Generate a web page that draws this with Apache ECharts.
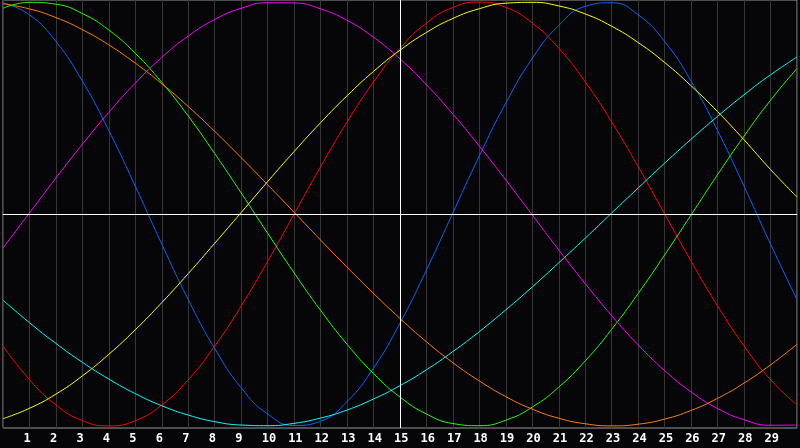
<!DOCTYPE html>
<html>
<head>
<meta charset="UTF-8">
<title>Biorhythm</title>
<script src="https://cdn.jsdelivr.net/npm/echarts@6/dist/echarts.min.js"></script>
<style>
  html, body { margin: 0; padding: 0; background: #060609; }
  #main { width: 800px; height: 448px; }
</style>
</head>
<body>
<div id="main"></div>
<script>
var days = [];
for (var d = 0; d <= 30; d++) days.push(String(d));

// values, one per day (0..30)
var physical = [0.997, 0.940, 0.814, 0.627, 0.393, 0.131, -0.142, -0.404, -0.635, -0.820, -0.944, -0.998, -0.978, -0.885, -0.727, -0.515, -0.264, 0.006, 0.275, 0.524, 0.735, 0.890, 0.980, 0.997, 0.940, 0.814, 0.627, 0.393, 0.131, -0.142, -0.404];
var emotional = [-0.623, -0.782, -0.901, -0.975, -1.000, -0.975, -0.901, -0.782, -0.623, -0.434, -0.223, 0, 0.223, 0.434, 0.623, 0.782, 0.901, 0.975, 1.000, 0.975, 0.901, 0.782, 0.623, 0.434, 0.223, 0, -0.223, -0.434, -0.623, -0.782, -0.901];
var intellectual = [0.971, 0.999, 0.990, 0.946, 0.868, 0.758, 0.621, 0.462, 0.285, 0.099, -0.091, -0.278, -0.455, -0.615, -0.753, -0.864, -0.944, -0.989, -0.999, -0.973, -0.911, -0.817, -0.693, -0.544, -0.375, -0.193, -0.004, 0.186, 0.368, 0.537, 0.687];
var intuitive = [-0.160, 0.005, 0.170, 0.329, 0.480, 0.618, 0.739, 0.840, 0.918, 0.971, 0.997, 0.996, 0.968, 0.914, 0.834, 0.732, 0.610, 0.471, 0.320, 0.160, -0.005, -0.170, -0.329, -0.480, -0.618, -0.739, -0.840, -0.918, -0.971, -0.997, -0.996];
var aesthetic = [-0.966, -0.917, -0.850, -0.764, -0.662, -0.546, -0.418, -0.281, -0.138, 0.007, 0.153, 0.295, 0.431, 0.558, 0.673, 0.773, 0.857, 0.923, 0.969, 0.995, 0.999, 0.982, 0.944, 0.886, 0.809, 0.715, 0.605, 0.483, 0.350, 0.210, 0.080];
var awareness = [0.992, 0.968, 0.927, 0.870, 0.798, 0.712, 0.615, 0.507, 0.390, 0.266, 0.138, 0.008, -0.123, -0.251, -0.375, -0.493, -0.603, -0.702, -0.788, -0.862, -0.921, -0.964, -0.990, -1.000, -0.992, -0.968, -0.927, -0.870, -0.798, -0.712, -0.615];
var spiritual = [-0.407, -0.513, -0.611, -0.700, -0.779, -0.848, -0.905, -0.949, -0.980, -0.996, -0.999, -0.988, -0.963, -0.925, -0.873, -0.810, -0.735, -0.649, -0.555, -0.452, -0.344, -0.230, -0.114, 0.005, 0.123, 0.240, 0.353, 0.461, 0.563, 0.657, 0.741];

var curves = [
  { name: 'physical', data: physical, color: '#0a64ff' },
  { name: 'emotional', data: emotional, color: '#ff0000' },
  { name: 'intellectual', data: intellectual, color: '#22ff00' },
  { name: 'intuitive', data: intuitive, color: '#ff00ff' },
  { name: 'aesthetic', data: aesthetic, color: '#ffff00' },
  { name: 'awareness', data: awareness, color: '#ff8000' },
  { name: 'spiritual', data: spiritual, color: '#00ffff' }
];

var series = curves.map(function (c) {
  return {
    name: c.name,
    type: 'line',
    data: c.data,
    smooth: true,
    showSymbol: false,
    lineStyle: { width: 1, color: c.color },
    itemStyle: { color: c.color }
  };
});
// white cross: today's line and the zero line
series.unshift({
  type: 'line',
  data: [],
  z: 1,
  markLine: {
    silent: true,
    symbol: 'none',
    label: { show: false },
    lineStyle: { color: '#ffffff', width: 1, type: 'solid' },
    data: [{ yAxis: 0 }, { xAxis: '15' }]
  }
});

var myChart = echarts.init(document.getElementById('main'));
myChart.setOption({
  backgroundColor: '#060609',
  animation: false,
  grid: { left: 0, right: 0, top: 0, bottom: 20, show: true, borderColor: '#999', borderWidth: 1 },
  xAxis: {
    type: 'category',
    data: days,
    boundaryGap: false,
    axisLine: { show: true, lineStyle: { color: '#999' } },
    axisTick: { show: false },
    splitLine: { show: true, interval: 0, lineStyle: { color: '#363636', width: 1 } },
    axisLabel: {
      interval: 0,
      margin: 5,
      formatter: function (v) { return (v === '0' || v === '30') ? '' : '{d|' + v + '}'; },
      rich: {
        d: {
          width: 12,
          align: 'left',
          color: '#fff',
          fontWeight: 'bold',
          fontSize: 12,
          fontFamily: 'DejaVu Sans Mono'
        }
      }
    }
  },
  yAxis: {
    type: 'value',
    min: -1.01,
    max: 1.01,
    axisLine: { show: false },
    axisTick: { show: false },
    axisLabel: { show: false },
    splitLine: { show: false }
  },
  series: series
});
</script>
</body>
</html>
